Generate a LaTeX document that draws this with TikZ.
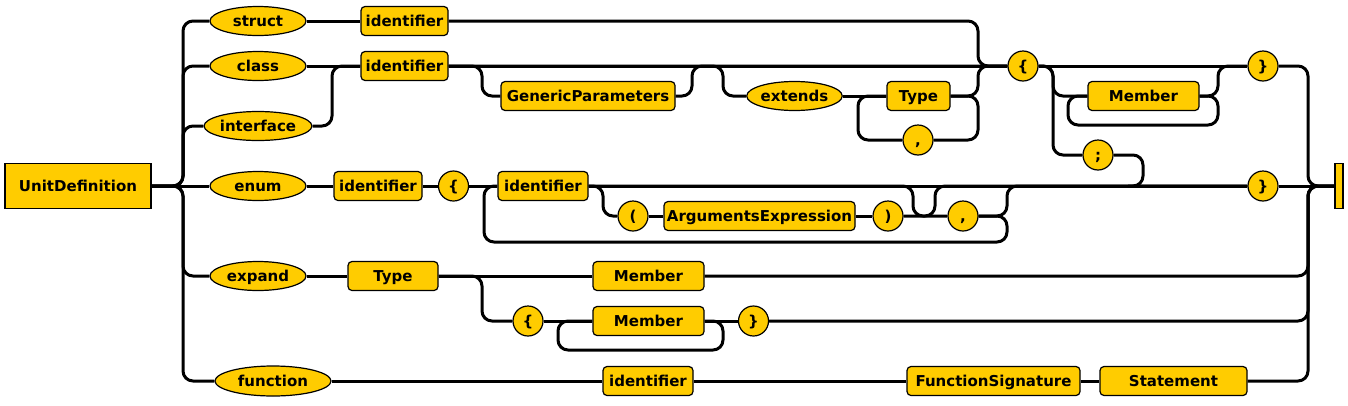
\documentclass[tikz,border=0pt]{standalone}
\usepackage{fontspec}
\setmainfont{DejaVu Sans}
\usetikzlibrary{shapes.geometric}
\definecolor{gold}{RGB}{255,204,0}
\begin{document}
\begin{tikzpicture}[x=1pt,y=-1pt,
  base/.style={fill=gold,draw=black,line width=1.2pt,inner sep=0pt,
    font=\bfseries\fontsize{15pt}{17pt}\selectfont,text height=10.8pt,text depth=0pt},
  term/.style={base,ellipse,minimum height=29pt},
  nt/.style={base,rectangle,rounded corners=4pt,minimum height=29pt},
  tok/.style={base,circle,minimum size=30pt},
  wire/.style={line width=3pt,black},
  rc/.style={wire,rounded corners=10pt}]
\useasboundingbox (0,0) rectangle (1348,405);
% nodes
\node[base,rectangle,minimum width=146pt,minimum height=45pt] (ud) at (78,186) {UnitDefinition};
\node[term,minimum width=96pt] (struct) at (258,21) {struct};
\node[nt,minimum width=87pt] (sid) at (404.5,21) {identifier};
\node[term,minimum width=96pt] (class) at (258,66) {class};
\node[nt,minimum width=87pt] (cid) at (404.5,66) {identifier};
\node[term,minimum width=96pt] (iface) at (258,126) {interface};
\node[term,minimum width=96pt] (enum) at (258,186) {enum};
\node[nt,minimum width=88pt] (eid) at (378,186) {identifier};
\node[tok] (elb) at (453.5,186) {\{};
\node[nt,minimum width=90pt] (iid) at (543,186) {identifier};
\node[tok] (lpar) at (633,216) {(};
\node[nt,minimum width=191pt] (args) at (759.5,216) {ArgumentsExpression};
\node[tok] (rpar) at (888,216) {)};
\node[tok] (ecomma) at (963,216) {,};
\node[tok] (erb) at (1263,186) {\}};
\node[nt,minimum width=174pt] (gp) at (588,96) {GenericParameters};
\node[term,minimum width=95pt] (ext) at (794.5,96) {extends};
\node[nt,minimum width=63pt] (ctype) at (918.5,96) {Type};
\node[tok] (tcomma) at (918,140) {,};
\node[tok] (clb) at (1023,66) {\{};
\node[nt,minimum width=111pt] (mem) at (1143.5,96) {Member};
\node[tok] (crb) at (1263,66) {\}};
\node[tok] (semi) at (1098,155) {;};
\node[term,minimum width=96pt] (expand) at (258,276) {expand};
\node[nt,minimum width=90pt] (xtype) at (393,276) {Type};
\node[nt,minimum width=111pt] (xmem) at (648.5,276) {Member};
\node[tok] (xlb) at (528,321) {\{};
\node[nt,minimum width=111pt] (xmem2) at (648.5,321) {Member};
\node[tok] (xrb) at (753.5,321) {\}};
\node[term,minimum width=116pt,minimum height=30pt] (func) at (273,381) {function};
\node[nt,minimum width=90pt] (fid) at (648,381) {identifier};
\node[nt,minimum width=173pt] (fsig) at (993.5,381) {FunctionSignature};
\node[nt,minimum width=147pt] (stmt) at (1173.5,381) {Statement};
\node[base,rectangle,minimum width=8pt,minimum height=45pt] (endbar) at (1339,186) {};
% left spine
\draw[wire] (ud.east) -- (enum.west);
\draw[rc] (ud.east) -| (183,21) -- (struct.west);
\draw[rc] (ud.east) -| (183,66) -- (class.west);
\draw[rc] (ud.east) -| (183,126) -- (iface.west);
\draw[rc] (ud.east) -| (183,276) -- (expand.west);
\draw[rc] (ud.east) -| (183,381) -- (func.west);
% struct / class / interface
\draw[wire] (struct.east) -- (sid.west);
\draw[wire] (class.east) -- (cid.west);
\draw[rc] (iface.east) -| (332,66) -- (cid.west);
\draw[rc] (sid.east) -| (978,66) -- (clb.west);
\draw[wire] (cid.east) -- (clb.west);
\draw[rc] (cid.east) -| (482,96) -- (gp.west);
\draw[rc] (gp.east) -| (692,66) -- (clb.west);
\draw[rc] (cid.east) -| (723,96) -- (ext.west);
\draw[wire] (ext.east) -- (ctype.west);
\draw[rc] (ctype.east) -| (978,66) -- (clb.west);
\draw[rc] (ctype.east) -| (978,140) -- (tcomma.east);
\draw[rc] (tcomma.west) -| (858,96) -- (ctype.west);
% class body
\draw[wire] (clb.east) -- (crb.west);
\draw[rc] (clb.east) -| (1053,96) -- (mem.west);
\draw[rc] (clb.east) -| (1053,155) -- (semi.west);
\draw[rc] (mem.east) -| (1218,66) -- (crb.west);
\draw[rc] (mem.east) -| (1218,125) -| (1068,96) -- (mem.west);
\draw[rc] (semi.east) -| (1143,186) -- (1128,186);
\draw[rc] (crb.east) -| (1308,186) -- (endbar.west);
% enum
\draw[wire] (enum.east) -- (eid.west);
\draw[wire] (eid.east) -- (elb.west);
\draw[wire] (elb.east) -- (iid.west);
\draw[wire] (iid.east) -- (erb.west);
\draw[wire] (erb.east) -- (endbar.west);
\draw[rc] (iid.east) -| (603,216) -- (lpar.west);
\draw[wire] (lpar.east) -- (args.west);
\draw[wire] (args.east) -- (rpar.west);
\draw[rc] (rpar.east) -| (935,186) -- (erb.west);
\draw[rc] (iid.east) -| (913,216) -- (ecomma.west);
\draw[rc] (ecomma.east) -| (1007,186) -- (erb.west);
\draw[rc] (ecomma.east) -| (1007,242) -| (484,186) -- (iid.west);
% expand
\draw[wire] (expand.east) -- (xtype.west);
\draw[wire] (xtype.east) -- (xmem.west);
\draw[rc] (xmem.east) -| (1308,186) -- (endbar.west);
\draw[rc] (xtype.east) -| (482,321) -- (xlb.west);
\draw[wire] (xlb.east) -- (xmem2.west);
\draw[wire] (xmem2.east) -- (xrb.west);
\draw[rc] (xmem2.east) -| (723,350) -| (558,321) -- (xmem2.west);
\draw[rc] (xrb.east) -| (1308,186) -- (endbar.west);
% function
\draw[wire] (func.east) -- (fid.west);
\draw[wire] (fid.east) -- (fsig.west);
\draw[wire] (fsig.east) -- (stmt.west);
\draw[rc] (stmt.east) -| (1308,186) -- (endbar.west);
\end{tikzpicture}
\end{document}
